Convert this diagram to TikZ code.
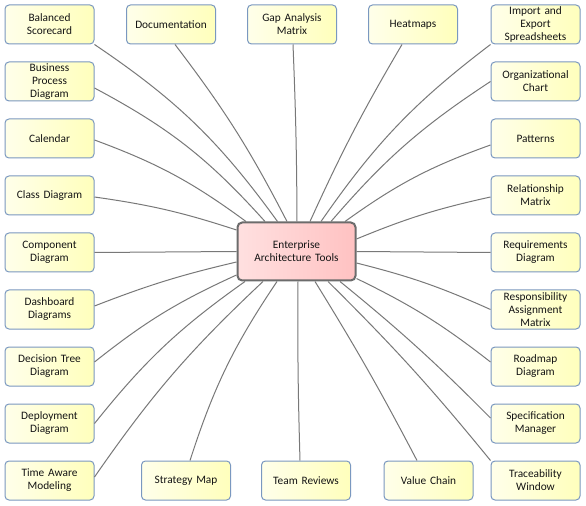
\documentclass[tikz,border=0pt]{standalone}
\usepackage{fontspec}
\setmainfont{Carlito}
\definecolor{boxL}{RGB}{255,255,234}
\definecolor{boxR}{RGB}{255,255,188}
\definecolor{boxB}{RGB}{122,152,192}
\definecolor{ctrL}{RGB}{255,224,224}
\definecolor{ctrM}{RGB}{255,232,232}
\definecolor{ctrR}{RGB}{255,194,194}
\definecolor{ctrB}{RGB}{108,108,108}
\definecolor{lnC}{RGB}{120,120,120}
\definecolor{txC}{RGB}{20,20,20}
\begin{document}
\begin{tikzpicture}[x=0.75pt,y=-0.75pt,
  topic/.style={draw=boxB,line width=0.75pt,rounded corners=3pt,left color=boxL,right color=boxR,
    minimum width=66.75pt,minimum height=29.25pt,inner sep=0pt,text width=64pt,align=center,
    font=\fontsize{8.5pt}{9.75pt}\selectfont,text=txC},
  hub/.style={draw=ctrB,line width=1.5pt,rounded corners=3.5pt,left color=ctrL,middle color=ctrM,right color=ctrR,
    minimum width=88.5pt,minimum height=43.5pt,inner sep=0pt,text width=86pt,align=center,
    font=\fontsize{8.5pt}{9.75pt}\selectfont,text=txC},
  link/.style={draw=lnC,line width=0.75pt}]
\useasboundingbox (0,0) rectangle (586,506);
\fill[white] (0,0) rectangle (586,506);
% links drawn after nodes are placed, on a background via ordering
\node[hub] (c) at (296.5,251.5) {Enterprise\\Architecture Tools};
% left column
\node[topic] (bsc) at (49.5,24.5) {Balanced\\Scorecard};
\node[topic] (bpd) at (49.5,81.5) {Business\\Process\\Diagram};
\node[topic] (cal) at (49.5,138.5) {Calendar};
\node[topic] (cls) at (49.5,195.5) {Class Diagram};
\node[topic] (cmp) at (49.5,252.5) {Component\\Diagram};
\node[topic] (dsh) at (49.5,309.5) {Dashboard\\Diagrams};
\node[topic] (dtd) at (49.5,366.5) {Decision Tree\\Diagram};
\node[topic] (dep) at (49.5,423.5) {Deployment\\Diagram};
\node[topic] (tam) at (49.5,480.5) {Time Aware\\Modeling};
% top row
\node[topic] (doc) at (171,24.5) {Documentation};
\node[topic] (gap) at (292,24.5) {Gap Analysis\\Matrix};
\node[topic] (hmp) at (413,24.5) {Heatmaps};
% bottom row
\node[topic] (stm) at (186,480.5) {Strategy Map};
\node[topic] (trv) at (306,480.5) {Team Reviews};
\node[topic] (vch) at (428.5,480.5) {Value Chain};
% right column
\node[topic] (imp) at (535.5,24.5) {Import and\\Export\\Spreadsheets};
\node[topic] (org) at (535.5,81.5) {Organizational\\Chart};
\node[topic] (pat) at (535.5,138.5) {Patterns};
\node[topic] (rlm) at (535.5,195.5) {Relationship\\Matrix};
\node[topic] (req) at (535.5,252.5) {Requirements\\Diagram};
\node[topic] (ram) at (535.5,309.5) {Responsibility\\Assignment\\Matrix};
\node[topic] (rdm) at (535.5,366.5) {Roadmap\\Diagram};
\node[topic] (spc) at (535.5,423.5) {Specification\\Manager};
\node[topic] (trc) at (535.5,480.5) {Traceability\\Window};
% connectors
\draw[link] (bsc.south east) to[bend left=10] ([shift={(-19,0)}]c.north);
\draw[link] ([shift={(0,6.5)}]bpd.east) to[bend left=10] ([shift={(-31.5,0)}]c.north);
\draw[link] ([shift={(0,1.5)}]cal.east) to[bend left=8] ([shift={(-50.5,0)}]c.north);
\draw[link] ([shift={(0,1.5)}]cls.east) to[bend left=5] ([shift={(0,-21.5)}]c.west);
\draw[link] (cmp.east) -- (c.west);
\draw[link] ([shift={(0,-3.5)}]dsh.east) to[bend left=4] ([shift={(0,10.5)}]c.west);
\draw[link] ([shift={(0,-4.5)}]dtd.east) to[bend left=7] ([shift={(0,23.5)}]c.west);
\draw[link] (dep.east) to[bend left=8] ([shift={(-51.5,0)}]c.south);
\draw[link] ([shift={(0,-3.5)}]tam.east) to[bend left=6] ([shift={(-33.5,0)}]c.south);
\draw[link] ([shift={(4,0)}]stm.north) to[bend left=8] ([shift={(-19.5,0)}]c.south);
\draw[link] ([shift={(-6,0)}]trv.north) to[bend left=1] ([shift={(1.5,0)}]c.south);
\draw[link] ([shift={(-11.5,0)}]vch.north) to[bend right=2] ([shift={(18.5,0)}]c.south);
\draw[link] (trc.north west) to[bend right=3] ([shift={(31.5,0)}]c.south);
\draw[link] ([shift={(0,-5.5)}]spc.west) to[bend right=3] ([shift={(43.5,0)}]c.south);
\draw[link] ([shift={(0,-4.5)}]rdm.west) to[bend right=6] ([shift={(0,27)}]c.east);
\draw[link] (ram.west) to[bend right=5] ([shift={(0,11.5)}]c.east);
\draw[link] (req.west) -- (c.east);
\draw[link] ([shift={(0,1.5)}]rlm.west) to[bend right=5] ([shift={(0,-12.5)}]c.east);
\draw[link] ([shift={(0,6.5)}]pat.west) to[bend right=8] ([shift={(48.5,0)}]c.north);
\draw[link] (org.west) to[bend right=8] ([shift={(34.5,0)}]c.north);
\draw[link] (imp.south west) to[bend right=9] ([shift={(24.5,0)}]c.north);
\draw[link] ([shift={(-11,0)}]hmp.south) to[bend right=3] ([shift={(13.5,0)}]c.north);
\draw[link] ([shift={(1,0)}]gap.south) to[bend left=1] ([shift={(0.5,0)}]c.north);
\draw[link] ([shift={(4,0)}]doc.south) to[bend left=5] ([shift={(-9.5,0)}]c.north);
\end{tikzpicture}
\end{document}
